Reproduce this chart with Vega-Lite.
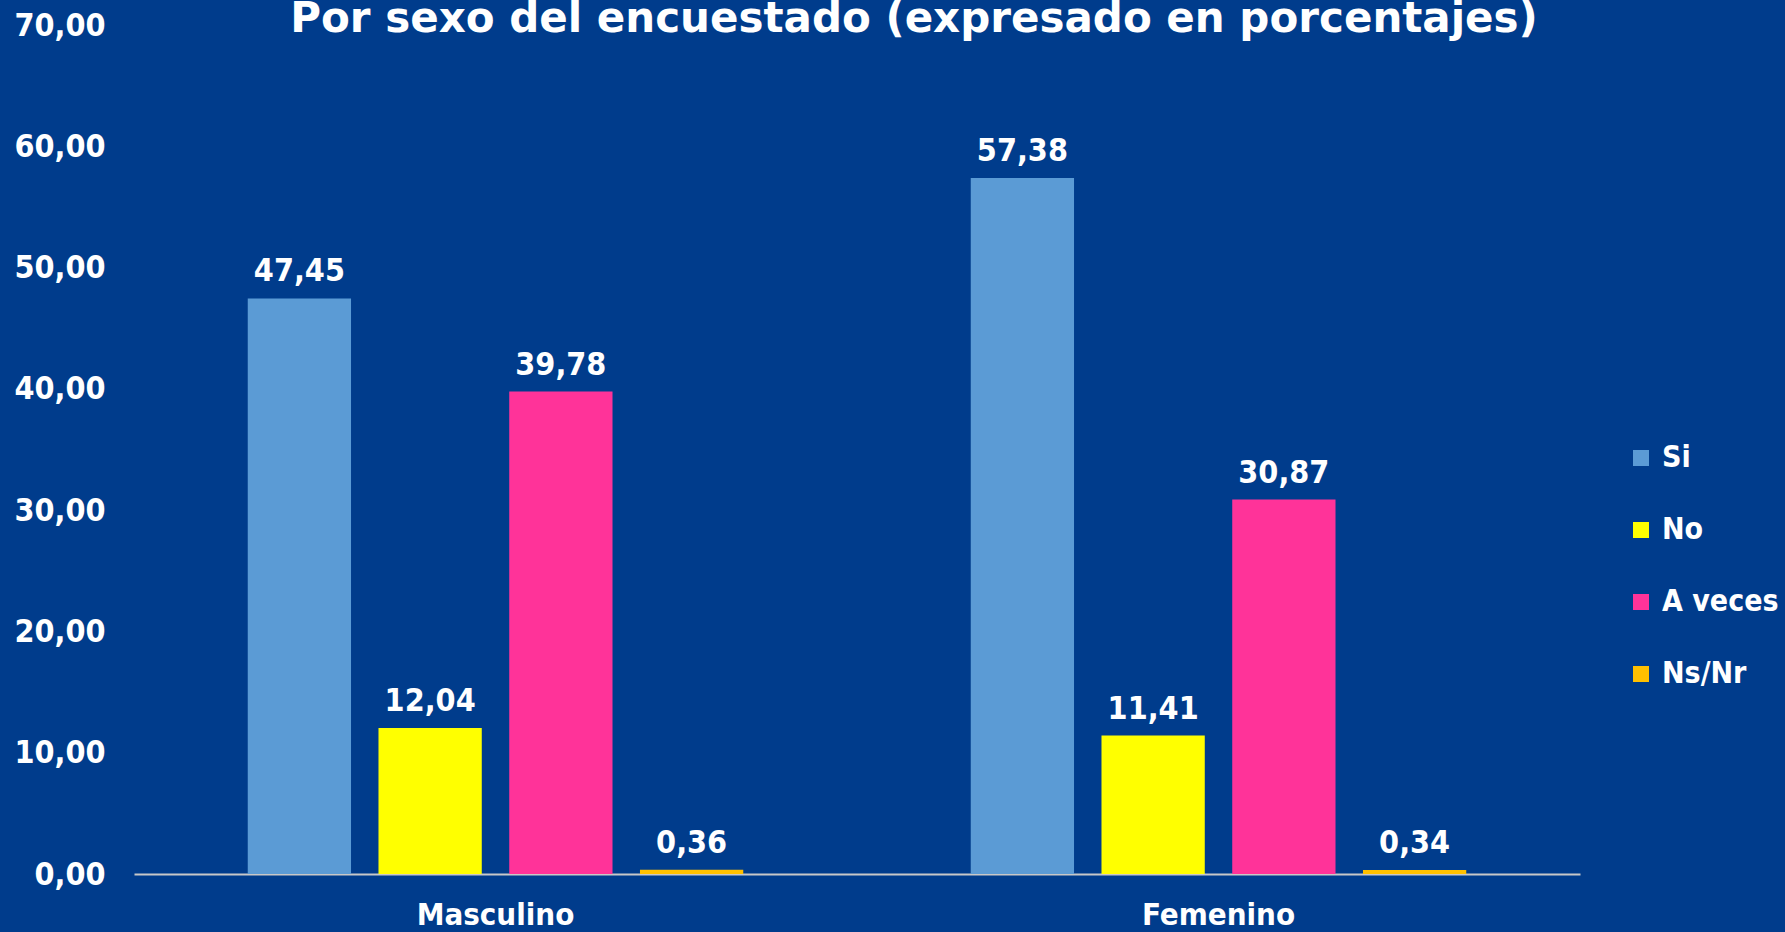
{
  "$schema": "https://vega.github.io/schema/vega-lite/v6.json",
  "autosize": {"type": "none"},
  "width": 1446,
  "height": 849,
  "padding": {"left": 134, "top": 25, "right": 205, "bottom": 58},
  "background": "#003C8C",
  "config": {
    "view": {"stroke": null},
    "font": "DejaVu Sans",
    "locale": {
      "number": {"decimal": ",", "thousands": ".", "grouping": [3], "currency": ["", " €"]}
    }
  },
  "title": {
    "text": "Por sexo del encuestado (expresado en porcentajes)",
    "font": "DejaVu Sans",
    "fontWeight": "bold",
    "fontSize": 42,
    "color": "white",
    "anchor": "middle",
    "baseline": "alphabetic",
    "offset": 0,
    "dy": 65,
    "dx": 57
  },
  "data": {
    "values": [
      {"sexo": "Masculino", "respuesta": "Si", "valor": 47.45},
      {"sexo": "Masculino", "respuesta": "No", "valor": 12.04},
      {"sexo": "Masculino", "respuesta": "A veces", "valor": 39.78},
      {"sexo": "Masculino", "respuesta": "Ns/Nr", "valor": 0.36},
      {"sexo": "Femenino", "respuesta": "Si", "valor": 57.38},
      {"sexo": "Femenino", "respuesta": "No", "valor": 11.41},
      {"sexo": "Femenino", "respuesta": "A veces", "valor": 30.87},
      {"sexo": "Femenino", "respuesta": "Ns/Nr", "valor": 0.34}
    ]
  },
  "encoding": {
    "x": {
      "field": "sexo",
      "type": "nominal",
      "sort": ["Masculino", "Femenino"],
      "scale": {"paddingInner": 0, "paddingOuter": 0},
      "axis": {
        "title": null,
        "labelAngle": 0,
        "labelColor": "white",
        "labelFont": "DejaVu Sans Condensed",
        "labelFontWeight": "bold",
        "labelFontSize": 31,
        "labelPadding": 26,
        "ticks": false,
        "domainColor": "#C8C8C8",
        "domainWidth": 2
      }
    },
    "xOffset": {
      "field": "respuesta",
      "type": "nominal",
      "sort": ["Si", "No", "A veces", "Ns/Nr"],
      "scale": {"paddingInner": 0.21, "paddingOuter": 0.87}
    },
    "y": {
      "field": "valor",
      "type": "quantitative",
      "scale": {"domain": [0, 70], "nice": false},
      "axis": {
        "title": null,
        "values": [0, 10, 20, 30, 40, 50, 60, 70],
        "format": ".2f",
        "labelColor": "white",
        "labelFont": "DejaVu Sans Condensed",
        "labelFontWeight": "bold",
        "labelFontSize": 32,
        "labelPadding": 29,
        "ticks": false,
        "domain": false,
        "grid": false
      }
    }
  },
  "layer": [
    {
      "mark": {"type": "bar"},
      "encoding": {
        "color": {
          "field": "respuesta",
          "type": "nominal",
          "sort": ["Si", "No", "A veces", "Ns/Nr"],
          "scale": {
            "domain": ["Si", "No", "A veces", "Ns/Nr"],
            "range": ["#5B9BD5", "#FFFF00", "#FF3399", "#FFC000"]
          },
          "legend": {
            "title": null,
            "orient": "none",
            "legendX": 1492,
            "legendY": 418,
            "symbolType": "square",
            "symbolSize": 256,
            "symbolStrokeWidth": 0,
            "symbolOpacity": 1,
            "labelColor": "white",
            "labelFont": "DejaVu Sans Condensed",
            "labelFontWeight": "bold",
            "labelFontSize": 30,
            "labelOffset": 6,
            "rowPadding": 42,
            "labelLimit": 300
          }
        }
      }
    },
    {
      "mark": {
        "type": "text",
        "baseline": "alphabetic",
        "dy": -17,
        "color": "white",
        "font": "DejaVu Sans Condensed",
        "fontWeight": "bold",
        "fontSize": 32
      },
      "encoding": {
        "text": {"field": "valor", "type": "quantitative", "format": ".2f"}
      }
    }
  ]
}
